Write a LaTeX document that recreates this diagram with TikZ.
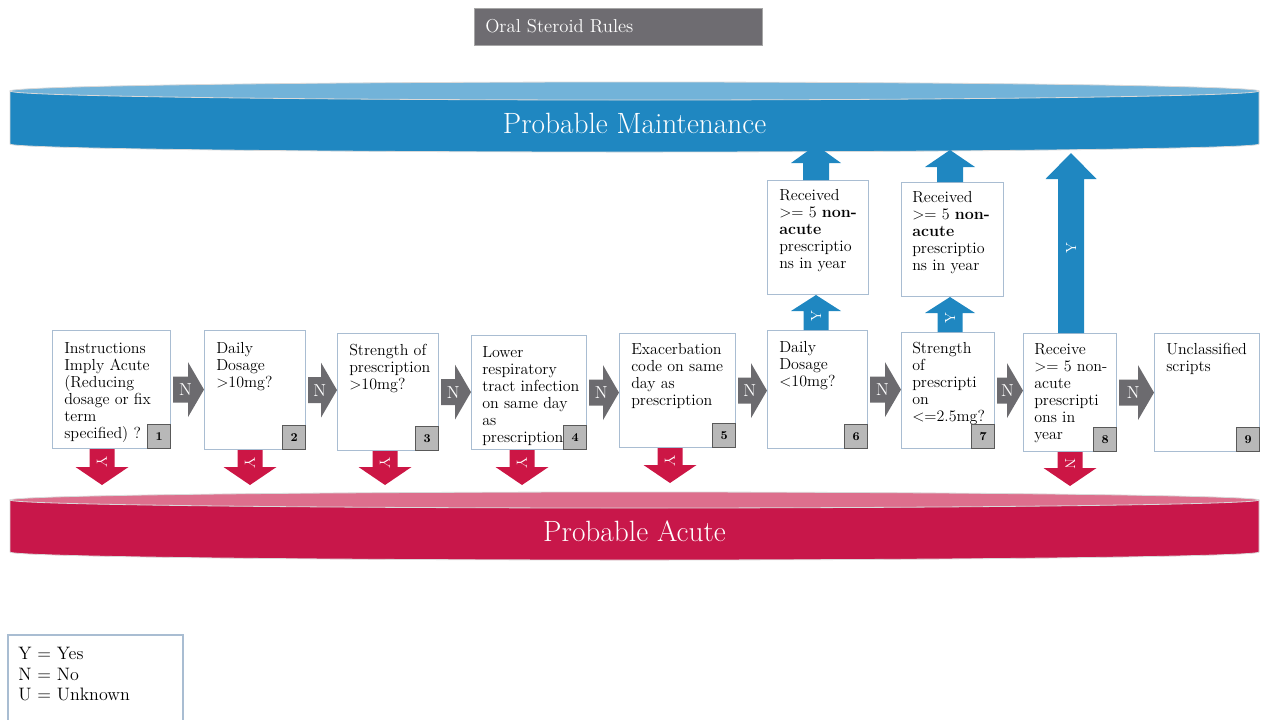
\documentclass[tikz,border=0pt]{standalone}
\usetikzlibrary{calc}
\definecolor{bandblue}{HTML}{1F87C1}
\definecolor{bandbluetop}{HTML}{72B3D9}
\definecolor{bandred}{HTML}{C8174A}
\definecolor{bandredtop}{HTML}{DD6F8D}
\definecolor{arrred}{HTML}{CC1645}
\definecolor{arrgray}{HTML}{6C6B6F}
\definecolor{boxedge}{HTML}{A9BDD2}
\definecolor{numfill}{HTML}{B8B8B8}
\definecolor{titlegray}{HTML}{6E6C71}
\definecolor{bandedge}{HTML}{D9D9D9}
\tikzset{
  stepbox/.style={draw=boxedge, line width=0.9pt, fill=white, anchor=north west, inner sep=0},
  boxtext/.style={anchor=north west, inner sep=0, align=left, font=\fontsize{12}{12.75}\selectfont},
  numbox/.style={draw=black!65, fill=numfill, line width=0.8pt, anchor=south east, minimum width=17.25pt, minimum height=18pt, inner sep=0, font=\bfseries\fontsize{9}{10}\selectfont},
  arrlab/.style={text=white, inner sep=0, font=\fontsize{13}{13}\selectfont},
  vlab/.style={text=white, inner sep=0, font=\fontsize{11}{11}\selectfont},
  bandtext/.style={text=white, inner sep=0, font=\fontsize{22}{24}\selectfont},
}
% box: name, x1, y1, x2, y2
\newcommand\bx[5]{\node[stepbox, minimum width={(#4-#2)*0.75pt}, minimum height={(#5-#3)*0.75pt}] (#1) at (#2,#3) {};}
% right arrow: from, to, label, label-node name
\newcommand\rarr[4]{%
  \path ($(#1.east)+(2,0)$) coordinate (ra);
  \path (#2.west |- ra) coordinate (rb);
  \fill[arrgray] ($(ra)+(0,-13)$) -- ($(rb)+(-16,-13)$) -- ($(rb)+(-16,-27.5)$) -- (rb) -- ($(rb)+(-16,27.5)$) -- ($(rb)+(-16,13)$) -- ($(ra)+(0,13)$) -- cycle;
  \node[arrlab] (#4) at ($(ra)!0.4!(rb)$) {#3};}
% up arrow: from node, tip coord, shaft hw, head hw, head len, label, frac, label name
\newcommand\uarr[8]{%
  \path (#2 |- #1.north) coordinate (ua);
  \fill[bandblue] ($(ua)+(-#3,0)$) -- ($(#2)+(-#3,#5)$) -- ($(#2)+(-#4,#5)$) -- (#2) -- ($(#2)+(#4,#5)$) -- ($(#2)+(#3,#5)$) -- ($(ua)+(#3,0)$) -- cycle;
  \node[vlab, rotate=90] (#8) at ($(ua)!#7!(#2)$) {#6};}
% down arrow
\newcommand\darr[8]{%
  \path (#2 |- #1.south) coordinate (da);
  \fill[arrred] ($(da)+(-#3,0)$) -- ($(#2)+(-#3,-#5)$) -- ($(#2)+(-#4,-#5)$) -- (#2) -- ($(#2)+(#4,-#5)$) -- ($(#2)+(#3,-#5)$) -- ($(da)+(#3,0)$) -- cycle;
  \node[vlab, rotate=-90] (#8) at ($(da)!#7!(#2)$) {#6};}
\begin{document}
\begin{tikzpicture}[x=0.75pt,y=-0.75pt]
\useasboundingbox (0,0) rectangle (1261,719);

% title
\node[draw=black!35, fill=titlegray, line width=0.6pt, anchor=north west, minimum width={288*0.75pt}, minimum height={37*0.75pt}, inner sep=0] (title) at (474,8) {};
\node[anchor=west, text=white, inner sep=0, font=\fontsize{14}{16}\selectfont] (titletext) at (485,26) {Oral Steroid Rules};

% blue band
\fill[bandblue, draw=bandedge, line width=0.6pt] (10,91) -- (10,144)
  .. controls (10,148.42) and (289.6,152) .. (634.5,152)
  .. controls (979.4,152) and (1259,148.42) .. (1259,144) -- (1259,91) -- cycle;
\fill[bandbluetop, draw=bandedge, line width=0.6pt] (10,91)
  .. controls (10,86.03) and (289.6,82) .. (634.5,82)
  .. controls (979.4,82) and (1259,86.03) .. (1259,91)
  .. controls (1259,95.97) and (979.4,100) .. (634.5,100)
  .. controls (289.6,100) and (10,95.97) .. (10,91) -- cycle;
\node[bandtext] (maint) at (634.5,123) {Probable Maintenance};

% red band
\fill[bandred, draw=bandedge, line width=0.6pt] (10,500) -- (10,552)
  .. controls (10,556.42) and (289.6,560) .. (634.5,560)
  .. controls (979.4,560) and (1259,556.42) .. (1259,552) -- (1259,500) -- cycle;
\fill[bandredtop, draw=bandedge, line width=0.6pt] (10,500)
  .. controls (10,495.58) and (289.6,492) .. (634.5,492)
  .. controls (979.4,492) and (1259,495.58) .. (1259,500)
  .. controls (1259,504.42) and (979.4,508) .. (634.5,508)
  .. controls (289.6,508) and (10,504.42) .. (10,500) -- cycle;
\node[bandtext] (acute) at (634.5,531) {Probable Acute};

% boxes
\bx{b1}{52}{330}{170}{448}
\bx{b2}{204}{330}{305}{449}
\bx{b3}{337}{333}{438}{450}
\bx{b4}{471}{335}{586}{449}
\bx{b5}{619}{333}{735}{447}
\bx{b6}{767}{330}{867}{448}
\bx{b7}{901}{332}{994}{448}
\bx{b8}{1023}{333}{1116}{451}
\bx{b9}{1154}{333}{1259}{451}
\bx{b6a}{767}{180}{868}{294}
\bx{b7a}{901}{182}{1003}{296}

\node[boxtext] (t1) at ($(b1.north west)+(12,12)$) {Instructions\\Imply Acute\\(Reducing\\dosage or fix\\term\\specified) ?};
\node[boxtext] (t2) at ($(b2.north west)+(12,12)$) {Daily\\Dosage\\>10mg?};
\node[boxtext] (t3) at ($(b3.north west)+(12,11)$) {Strength of\\prescription\\>10mg?};
\node[boxtext] (t4) at ($(b4.north west)+(11,11)$) {Lower\\respiratory\\tract infection\\on same day\\as\\prescription};
\node[boxtext] (t5) at ($(b5.north west)+(12,10)$) {Exacerbation\\code on same\\day as\\prescription};
\node[boxtext] (t6) at ($(b6.north west)+(12,11)$) {Daily\\Dosage\\<10mg?};
\node[boxtext] (t7) at ($(b7.north west)+(11,10)$) {Strength\\of\\prescripti\\on\\<=2.5mg?};
\node[boxtext] (t8) at ($(b8.north west)+(11,10)$) {Receive\\>= 5 non-\\acute\\prescripti\\ons in\\year};
\node[boxtext] (t9) at ($(b9.north west)+(12,10)$) {Unclassified\\scripts};
\node[boxtext] (t6a) at ($(b6a.north west)+(12,9)$) {Received\\>= 5 \textbf{non-}\\\textbf{acute}\\prescriptio\\ns in year};
\node[boxtext] (t7a) at ($(b7a.north west)+(11,9)$) {Received\\>= 5 \textbf{non-}\\\textbf{acute}\\prescriptio\\ns in year};

% number boxes
\foreach \i in {1,...,9} {\node[numbox] (n\i) at (b\i.south east) {\i};}

% grey N arrows
\rarr{b1}{b2}{N}{l12}
\rarr{b2}{b3}{N}{l23}
\rarr{b3}{b4}{N}{l34}
\rarr{b4}{b5}{N}{l45}
\rarr{b5}{b6}{N}{l56}
\rarr{b6}{b7}{N}{l67}
\rarr{b7}{b8}{N}{l78}
\rarr{b8}{b9}{N}{l89}

% blue up arrows
\coordinate (u6) at (816,295);
\coordinate (u6a) at (816,145);
\coordinate (u7) at (950,297);
\coordinate (u7a) at (950,150);
\coordinate (u8) at (1071,153);
\uarr{b6}{u6}{12.5}{25}{16}{Y}{0.41}{ly6}
\uarr{b6a}{u6a}{13}{25}{18}{}{0.5}{ly6a}
\uarr{b7}{u7}{12.5}{25}{16}{Y}{0.41}{ly7}
\uarr{b7a}{u7a}{13}{25}{17}{}{0.5}{ly7a}
\uarr{b8}{u8}{13}{25.5}{26}{Y}{0.47}{ly8}

% red down arrows
\coordinate (d1) at (102,485);
\coordinate (d2) at (250,485);
\coordinate (d3) at (385,485);
\coordinate (d4) at (522,485);
\coordinate (d5) at (670,483);
\coordinate (d8) at (1070,486);
\darr{b1}{d1}{12.5}{26.5}{18}{Y}{0.36}{ld1}
\darr{b2}{d2}{12.5}{26.5}{18}{Y}{0.36}{ld2}
\darr{b3}{d3}{12.5}{26.5}{18}{Y}{0.36}{ld3}
\darr{b4}{d4}{12.5}{26.5}{18}{Y}{0.36}{ld4}
\darr{b5}{d5}{12.5}{26.5}{18}{Y}{0.36}{ld5}
\darr{b8}{d8}{12.5}{26.5}{18}{N}{0.36}{ld8}

% legend
\draw[boxedge, line width=0.9pt] (8,722) -- (8,635) -- (183,635) -- (183,722);
\node[anchor=north west, inner sep=0, align=left, font=\fontsize{13.5}{15.4}\selectfont] (legend) at (18,647) {Y = Yes\\N = No\\U = Unknown};
\end{tikzpicture}
\end{document}
